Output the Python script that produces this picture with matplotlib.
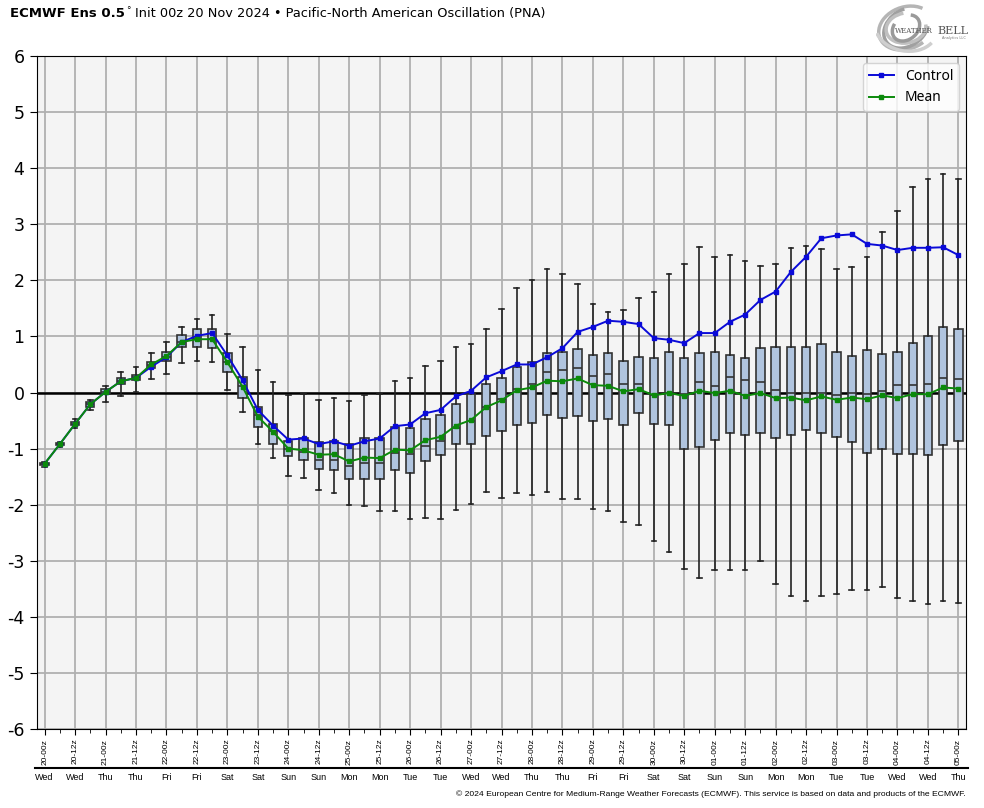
import numpy as np
import matplotlib.pyplot as plt
import matplotlib.transforms as mtransforms
from matplotlib.lines import Line2D
from matplotlib.patches import Arc

# ECMWF ensemble PNA index forecast, 6-hourly steps from 20-00z to 05-00z
ctrl = [-1.27, -0.92, -0.56, -0.21, 0.01, 0.20, 0.26, 0.46, 0.63, 0.90,
        1.01, 1.06, 0.66, 0.22, -0.31, -0.59, -0.84, -0.82, -0.92, -0.87,
        -0.95, -0.87, -0.82, -0.60, -0.57, -0.37, -0.31, -0.07, 0.03, 0.27,
        0.38, 0.50, 0.50, 0.63, 0.79, 1.08, 1.17, 1.28, 1.26, 1.22,
        0.97, 0.94, 0.88, 1.06, 1.06, 1.26, 1.39, 1.65, 1.80, 2.15,
        2.42, 2.75, 2.80, 2.82, 2.65, 2.62, 2.54, 2.58, 2.58, 2.59, 2.45]
ens_mean = [-1.27, -0.92, -0.56, -0.21, 0.01, 0.20, 0.26, 0.50, 0.65, 0.90,
            0.95, 0.95, 0.54, 0.10, -0.43, -0.70, -1.00, -1.03, -1.11, -1.10,
            -1.23, -1.16, -1.17, -1.02, -1.03, -0.85, -0.79, -0.59, -0.49, -0.26,
            -0.14, 0.04, 0.09, 0.21, 0.20, 0.25, 0.13, 0.12, 0.02, 0.06,
            -0.05, -0.01, -0.06, 0.03, -0.01, 0.03, -0.06, -0.01, -0.10, -0.09,
            -0.14, -0.07, -0.13, -0.09, -0.12, -0.05, -0.10, -0.03, -0.03, 0.09, 0.07]
median = [-1.27, -0.92, -0.56, -0.21, 0.01, 0.20, 0.27, 0.49, 0.64, 0.90,
          0.96, 0.96, 0.55, 0.12, -0.40, -0.68, -1.00, -1.06, -1.21, -1.21,
          -1.31, -1.25, -1.25, -1.07, -1.10, -0.96, -0.87, -0.64, -0.51, -0.26,
          -0.12, 0.07, 0.16, 0.36, 0.40, 0.43, 0.29, 0.33, 0.16, 0.15,
          -0.05, -0.01, -0.02, 0.18, 0.11, 0.27, 0.22, 0.18, 0.04, 0.00,
          0.00, 0.00, -0.05, -0.01, -0.03, 0.02, 0.13, 0.13, 0.16, 0.25, 0.24]
q1 = [-1.29, -0.94, -0.58, -0.26, -0.03, 0.16, 0.22, 0.43, 0.56, 0.81,
      0.81, 0.79, 0.36, -0.09, -0.62, -0.91, -1.14, -1.21, -1.37, -1.39,
      -1.55, -1.55, -1.55, -1.39, -1.44, -1.23, -1.12, -0.91, -0.92, -0.78,
      -0.69, -0.58, -0.55, -0.41, -0.46, -0.42, -0.51, -0.48, -0.58, -0.37,
      -0.57, -0.58, -1.01, -0.98, -0.84, -0.73, -0.76, -0.73, -0.82, -0.76,
      -0.67, -0.73, -0.80, -0.89, -1.07, -1.01, -1.10, -1.10, -1.12, -0.94, -0.87]
q3 = [-1.25, -0.90, -0.53, -0.17, 0.06, 0.25, 0.32, 0.55, 0.72, 1.02,
      1.13, 1.13, 0.70, 0.28, -0.26, -0.57, -0.87, -0.82, -0.88, -0.87,
      -0.91, -0.82, -0.82, -0.62, -0.64, -0.48, -0.41, -0.21, -0.03, 0.16,
      0.25, 0.45, 0.55, 0.70, 0.72, 0.77, 0.66, 0.70, 0.56, 0.63,
      0.61, 0.72, 0.61, 0.70, 0.73, 0.66, 0.61, 0.79, 0.81, 0.82,
      0.82, 0.86, 0.72, 0.65, 0.75, 0.68, 0.73, 0.88, 1.00, 1.16, 1.14]
lo = [-1.32, -0.97, -0.63, -0.31, -0.17, -0.06, 0.01, 0.24, 0.33, 0.52,
      0.56, 0.54, 0.04, -0.35, -0.92, -1.17, -1.48, -1.53, -1.73, -1.80,
      -2.01, -2.02, -2.11, -2.11, -2.26, -2.23, -2.26, -2.10, -1.98, -1.78,
      -1.89, -1.80, -1.83, -1.78, -1.90, -1.90, -2.07, -2.12, -2.31, -2.37,
      -2.64, -2.85, -3.15, -3.30, -3.17, -3.17, -3.17, -3.01, -3.42, -3.62,
      -3.71, -3.63, -3.60, -3.53, -3.53, -3.46, -3.67, -3.71, -3.78, -3.71, -3.76]
hi = [-1.24, -0.89, -0.48, -0.13, 0.12, 0.37, 0.46, 0.70, 0.90, 1.16,
      1.31, 1.38, 1.04, 0.81, 0.40, 0.18, -0.05, -0.03, -0.14, -0.09,
      -0.16, -0.05, -0.03, 0.20, 0.25, 0.47, 0.57, 0.82, 0.86, 1.13,
      1.48, 1.86, 2.00, 2.20, 2.11, 1.93, 1.57, 1.43, 1.47, 1.68,
      1.80, 2.11, 2.30, 2.59, 2.41, 2.45, 2.34, 2.25, 2.29, 2.57,
      2.61, 2.55, 2.21, 2.24, 2.41, 2.86, 3.23, 3.66, 3.80, 3.89, 3.80]

tick_labels = ["20-00z", "20-12z", "21-00z", "21-12z", "22-00z", "22-12z",
               "23-00z", "23-12z", "24-00z", "24-12z", "25-00z", "25-12z",
               "26-00z", "26-12z", "27-00z", "27-12z", "28-00z", "28-12z",
               "29-00z", "29-12z", "30-00z", "30-12z", "01-00z", "01-12z",
               "02-00z", "02-12z", "03-00z", "03-12z", "04-00z", "04-12z",
               "05-00z"]
day_labels = ["Wed", "Wed", "Thu", "Thu", "Fri", "Fri", "Sat", "Sat", "Sun", "Sun",
              "Mon", "Mon", "Tue", "Tue", "Wed", "Wed", "Thu", "Thu", "Fri", "Fri",
              "Sat", "Sat", "Sun", "Sun", "Mon", "Mon", "Tue", "Tue", "Wed", "Wed",
              "Thu"]

small = ['Liberation Sans', 'DejaVu Sans']

fig = plt.figure(figsize=(9.84, 8.08), dpi=100)
ax = fig.add_axes([37 / 984, 1 - 729 / 808, (966 - 37) / 984, (729 - 56) / 808])
ax.set_facecolor('#f4f4f4')

x = np.arange(len(ctrl))
stats = [dict(whislo=lo[i], q1=q1[i], med=median[i], q3=q3[i], whishi=hi[i], fliers=[])
         for i in range(len(x))]
ax.bxp(stats, positions=x, widths=0.55, capwidths=0.3, patch_artist=True,
       showfliers=False, manage_ticks=False,
       boxprops=dict(facecolor='#b0c4de', edgecolor='#333333', linewidth=1.2),
       medianprops=dict(color='#333333', linewidth=1.2),
       whiskerprops=dict(color='#222222', linewidth=1.2),
       capprops=dict(color='#222222', linewidth=1.2), zorder=3)

ax.axhline(0, color='black', lw=1.8, zorder=2)
ax.plot(x, ctrl, color='#0a0ad8', marker='s', ms=3, lw=1.4, label='Control', zorder=5)
ax.plot(x, ens_mean, color='#0b8a0b', marker='s', ms=3, lw=1.4, label='Mean', zorder=6)

ax.set_xlim(-0.5, 60.5)
ax.set_ylim(-6, 6)
ax.set_yticks(range(-6, 7))
ax.set_yticklabels([str(v) for v in range(-6, 7)], fontsize=12.5)
ax.set_xticks(x[::2])
ax.set_xticks(x[1::2], minor=True)
ax.set_xticklabels(tick_labels, rotation=90, fontsize=6, family=small)
ax.tick_params(axis='x', which='major', length=4, pad=3)
ax.tick_params(axis='x', which='minor', length=3)
ax.tick_params(axis='y', length=5, pad=4)
ax.grid(True, which='major', color='#b0b0b0', lw=1.3)
ax.set_axisbelow(True)

ax.legend(loc='upper right', handlelength=1.8, prop={'family': 'Noto Sans', 'size': 10})

# day names under the separator line
trans = mtransforms.blended_transform_factory(ax.transData, fig.transFigure)
for xi, d in zip(x[::2], day_labels):
    ax.text(xi, 1 - 777 / 808, d, transform=trans, ha='center', va='center',
            fontsize=6.5, family=small)
fig.add_artist(Line2D([35 / 984, 968 / 984], [1 - 768 / 808] * 2,
                      transform=fig.transFigure, color='black', lw=1.5))

fig.text(966 / 984, 1 - 794 / 808,
         "\u00a9 2024 European Centre for Medium-Range Weather Forecasts (ECMWF). "
         "This service is based on data and products of the ECMWF.",
         ha='right', va='center', fontsize=6.1, family=small)

# title
t1 = fig.text(10 / 984, 1 - 20 / 808, "ECMWF Ens 0.5", fontsize=9.5,
              weight='bold', va='bottom')
ax.annotate("\u00b0", xy=(1, 0), xycoords=t1, xytext=(1, 5),
            textcoords='offset pixels', fontsize=6.5, va='bottom',
            annotation_clip=False)
ax.annotate("Init 00z 20 Nov 2024 \u2022 Pacific-North American Oscillation (PNA)",
            xy=(1, 0), xycoords=t1, xytext=(10, 0), textcoords='offset pixels',
            fontsize=9.3, va='bottom', annotation_clip=False)

# logo
lax = fig.add_axes([876 / 984, 1 - 54 / 808, 92 / 984, 50 / 808])
lax.set_xlim(0, 92)
lax.set_ylim(0, 50)
lax.axis('off')
for w, h, ang, a0, a1, c in [(56, 42, 20, 30, 300, '#b5b5b5'),
                             (48, 36, 35, 60, 330, '#a0a0a0'),
                             (40, 30, 10, 90, 360, '#c0c0c0'),
                             (30, 23, 40, 120, 390, '#9a9a9a'),
                             (62, 46, -10, 200, 340, '#cfcfcf')]:
    lax.add_patch(Arc((30, 26), w, h, angle=ang, theta1=a0, theta2=a1,
                      color=c, lw=2.5))
lax.text(19, 23, "WEATHER", fontsize=5, family='DejaVu Serif', color='#555555',
         va='center')
lax.text(61, 23.5, "BELL", fontsize=8, family='DejaVu Serif', color='#555555',
         va='center')
lax.text(66, 16, "Analytics LLC", fontsize=2.5, color='#777777', va='center')

fig.savefig('out.png', dpi=100)
